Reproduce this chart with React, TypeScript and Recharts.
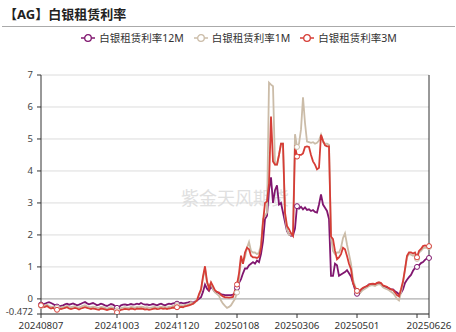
import { LineChart, Line, XAxis, YAxis, CartesianGrid, ReferenceLine } from "recharts";

// x axis: one point per trading day (index), labels at selected indices
const tickIdx = [0, 38, 68, 98, 128, 158, 188, 194];
const tickLabels = ["20240807", "20241003", "20241120", "20250108", "20250306", "20250501", "", "20250626"];
const yTicks = [-0.472, 0, 1, 2, 3, 4, 5, 6, 7];
const markerIdx = [0, 8, 38, 68, 98, 128, 158, 188, 194];

const rate12M = [
  -0.18, -0.17, -0.15, -0.12, -0.1, -0.13, -0.16, -0.2, -0.24, -0.25,
  -0.22, -0.2, -0.17, -0.15, -0.18, -0.16, -0.14, -0.17, -0.2, -0.18,
  -0.15, -0.12, -0.1, -0.14, -0.17, -0.15, -0.13, -0.16, -0.2, -0.18,
  -0.15, -0.17, -0.2, -0.22, -0.19, -0.16, -0.18, -0.22, -0.28, -0.25,
  -0.2, -0.18, -0.17, -0.19, -0.18, -0.16, -0.18, -0.17, -0.15, -0.17,
  -0.13, -0.16, -0.18, -0.17, -0.19, -0.18, -0.16, -0.18, -0.2, -0.17,
  -0.15, -0.18, -0.2, -0.17, -0.15, -0.16, -0.14, -0.13, -0.15, -0.14,
  -0.12, -0.14, -0.13, -0.12, -0.1, -0.09, -0.12, -0.08, -0.05, 0.0,
  0.05, 0.22, 0.45, 0.32, 0.25, 0.38, 0.3, 0.22, 0.2, 0.18,
  0.15, 0.13, 0.12, 0.12, 0.12, 0.12, 0.13, 0.17, 0.35, 0.5,
  0.62, 0.8, 0.95, 0.95, 1.05, 1.1, 1.15, 1.1, 1.2, 1.15,
  1.4, 1.8, 2.5, 2.6, 3.4, 3.8, 3.0, 3.4, 3.55, 2.95,
  3.0, 2.7, 2.4, 2.12, 2.02, 1.97, 1.98, 2.2, 2.9, 2.82,
  2.88, 2.8, 2.86, 2.78, 2.8, 2.75, 2.78, 2.72, 2.7, 2.95,
  3.27, 2.95, 2.85, 2.75, 2.5, 0.72, 0.72, 1.1, 1.05, 0.72,
  0.76, 0.8, 0.84, 0.9, 0.8, 0.7, 0.5, 0.3, 0.16, 0.15,
  0.25, 0.32, 0.36, 0.4, 0.45, 0.45, 0.46, 0.44, 0.48, 0.5,
  0.48, 0.4, 0.38, 0.36, 0.33, 0.3, 0.3, 0.24, 0.2, 0.15,
  0.18, 0.3, 0.5, 0.6, 0.68, 0.75, 0.88, 0.97, 1.0, 1.05,
  1.12, 1.15, 1.22, 1.27, 1.28,
];

const rate1M = [
  -0.22, -0.24, -0.2, -0.18, -0.22, -0.25, -0.24, -0.27, -0.28, -0.26,
  -0.27, -0.25, -0.24, -0.22, -0.25, -0.26, -0.24, -0.23, -0.26, -0.27,
  -0.24, -0.22, -0.2, -0.23, -0.25, -0.26, -0.24, -0.25, -0.27, -0.28,
  -0.25, -0.26, -0.28, -0.3, -0.28, -0.26, -0.27, -0.3, -0.36, -0.32,
  -0.28, -0.27, -0.26, -0.27, -0.28, -0.25, -0.26, -0.27, -0.25, -0.26,
  -0.24, -0.25, -0.27, -0.26, -0.28, -0.27, -0.26, -0.25, -0.27, -0.26,
  -0.24, -0.26, -0.25, -0.27, -0.24, -0.25, -0.22, -0.24, -0.2, -0.22,
  -0.2, -0.22, -0.18, -0.2, -0.17, -0.1, -0.16, -0.12, 0.0, 0.1,
  0.25, 0.65, 0.95, 0.5, 0.4, 0.5, 0.3, 0.2, 0.15, 0.1,
  -0.05, -0.15, -0.22, -0.28, -0.25, -0.2, -0.1, 0.0, 0.2, 0.6,
  1.2, 1.15, 1.3, 1.6, 1.78, 1.5, 1.45, 1.45, 1.4, 1.45,
  1.7, 2.5, 2.6, 2.7, 6.76, 6.7, 6.65, 4.2, 4.2, 4.5,
  4.85, 4.85, 2.6, 2.15, 2.0, 2.0, 2.1, 5.15, 4.75, 4.85,
  5.3, 6.3, 5.5, 4.92, 4.9, 4.88, 4.9, 4.85, 4.88, 4.95,
  5.13, 4.9, 4.85, 4.85, 4.82, 1.96, 1.5, 1.4, 1.45, 1.45,
  1.6, 1.9, 2.05, 1.7, 1.4, 1.1, 0.6, 0.4, 0.25, 0.15,
  0.22, 0.28, 0.32, 0.36, 0.4, 0.42, 0.42, 0.4, 0.44, 0.46,
  0.44, 0.36, 0.33, 0.3, 0.27, 0.22, 0.18, 0.1, 0.0, -0.05,
  0.2, 0.5, 0.9, 1.3, 1.4, 1.38, 1.35, 1.38, 1.25, 1.45,
  1.5, 1.58, 1.6, 1.6, 1.62,
];

const rate3M = [
  -0.2, -0.26, -0.25, -0.22, -0.27, -0.3, -0.28, -0.32, -0.34, -0.3,
  -0.32, -0.3, -0.28, -0.26, -0.3, -0.32, -0.3, -0.28, -0.3, -0.33,
  -0.3, -0.28, -0.26, -0.28, -0.3, -0.32, -0.3, -0.31, -0.33, -0.34,
  -0.3, -0.31, -0.33, -0.35, -0.33, -0.31, -0.32, -0.35, -0.42, -0.38,
  -0.34, -0.33, -0.31, -0.32, -0.33, -0.3, -0.31, -0.33, -0.3, -0.31,
  -0.3, -0.31, -0.33, -0.32, -0.34, -0.33, -0.31, -0.3, -0.32, -0.31,
  -0.29, -0.31, -0.3, -0.32, -0.3, -0.29, -0.27, -0.28, -0.26, -0.27,
  -0.25, -0.26, -0.23, -0.22, -0.2, -0.18, -0.15, -0.1, -0.05, 0.15,
  0.3, 0.7, 1.02, 0.55, 0.32, 0.52, 0.4, 0.27, 0.22, 0.2,
  0.12, 0.08, 0.05, 0.05, 0.04, 0.05, 0.06, 0.27, 0.45, 0.8,
  1.35, 1.1, 1.45, 1.6, 1.55, 1.35, 1.3, 1.3, 1.28, 1.32,
  1.6, 2.4, 3.0, 3.05, 3.6, 5.7, 4.3, 4.2, 4.2, 4.5,
  4.85, 4.85, 2.7, 2.28, 2.18, 2.05, 1.97, 4.8, 4.45, 4.5,
  4.5, 4.55, 4.75, 4.77, 4.75, 4.5, 4.3, 4.2, 4.05, 4.1,
  5.13, 4.95, 4.8, 4.77, 4.77, 1.95, 1.87, 1.5, 1.24, 1.3,
  1.4, 1.6, 1.55, 1.34, 1.1, 0.93, 0.5, 0.35, 0.25, 0.2,
  0.3, 0.35, 0.38, 0.4, 0.45, 0.47, 0.48, 0.46, 0.5, 0.52,
  0.5, 0.42, 0.4, 0.38, 0.33, 0.3, 0.28, 0.2, 0.12, 0.08,
  0.3, 0.55, 0.93, 1.35, 1.45, 1.45, 1.42, 1.45, 1.3, 1.5,
  1.56, 1.65, 1.67, 1.65, 1.65,
];

const series = [
  { key: "r12", name: "白银租赁利率12M", color: "#80166f", values: rate12M },
  { key: "r1", name: "白银租赁利率1M", color: "#cbbca8", values: rate1M },
  { key: "r3", name: "白银租赁利率3M", color: "#d63d36", values: rate3M },
];

const data = rate12M.map((_, i) => ({ idx: i, r12: rate12M[i], r1: rate1M[i], r3: rate3M[i] }));

const font = "'Noto Sans', 'Noto Sans CJK SC', sans-serif";

function marker(color: string) {
  return (props: any) => {
    const { cx, cy, index } = props;
    if (!markerIdx.includes(index)) return <g key={index} />;
    return <circle key={index} cx={cx} cy={cy} r={2.5} fill="#fff" stroke={color} strokeWidth={1} />;
  };
}

// y labels; the bottom one is nudged up a touch so it clears the date labels
function YTick(props: any) {
  const { x, y, payload } = props;
  const lift = payload.value === -0.472 ? -2.2 : 0;
  return (
    <text x={x - 2} y={y + lift} dy={3.3} textAnchor="end" fill="#444" fontSize={9.5} fontFamily={font}>
      {String(payload.value)}
    </text>
  );
}

function LegendIcon({ color }: { color: string }) {
  return (
    <svg width={14} height={10} style={{ marginRight: 4 }}>
      <line x1={0} y1={5} x2={14} y2={5} stroke={color} strokeWidth={1.5} />
      <circle cx={7} cy={5} r={3.3} fill="#fff" stroke={color} strokeWidth={1.3} />
    </svg>
  );
}

export default function App() {
  return (
    <div style={{ position: "absolute", left: 0, top: 0, width: 456, height: 332, background: "#fff", fontFamily: font }}>
      <div style={{ position: "absolute", left: 4, top: 5, fontSize: 13, fontWeight: 700, color: "#222", lineHeight: "18px" }}>
        【AG】白银租赁利率
      </div>
      <div style={{ position: "absolute", left: 2, right: 1, top: 26, borderTop: "1px solid #aaa" }} />
      <div
        style={{
          position: "absolute", left: 8, width: 472, top: 31, display: "flex", justifyContent: "center",
          fontSize: 10.5, color: "#333", lineHeight: "14px",
        }}
      >
        {series.map((s) => (
          <div key={s.key} style={{ display: "flex", alignItems: "center", marginRight: 10 }}>
            <LegendIcon color={s.color} />
            <span>{s.name}</span>
          </div>
        ))}
      </div>
      <div
        style={{
          position: "absolute", left: 41, width: 388, top: 184, textAlign: "center",
          fontSize: 18, color: "#e0e0e0",
        }}
      >
        紫金天风期货
      </div>
      <div style={{ position: "absolute", left: 0, top: 0 }}>
        <LineChart width={456} height={332} data={data} margin={{ top: 75, right: 27, bottom: 0, left: 0 }}>
          <CartesianGrid vertical={false} stroke="#dcdcdc" />
          <XAxis
            dataKey="idx"
            type="number"
            domain={[0, 194]}
            ticks={tickIdx}
            interval={0}
            tickFormatter={(v: number) => tickLabels[tickIdx.indexOf(v)] ?? ""}
            height={18}
            tickSize={4}
            tickMargin={3.8}
            axisLine={{ stroke: "#333" }}
            tickLine={{ stroke: "#333" }}
            tick={{ fill: "#333", fontSize: 9.8, fontFamily: font }}
          />
          <YAxis
            domain={[-0.472, 7]}
            ticks={yTicks}
            interval={0}
            allowDataOverflow
            width={41}
            tickSize={4}
            tickMargin={2}
            axisLine={{ stroke: "#333" }}
            tickLine={{ stroke: "#333" }}
            tick={<YTick />}
          />
          <ReferenceLine y={0} stroke="#aaa" />
          <ReferenceLine x={194} stroke="#333" />
          {series.map((s) => (
            <Line
              key={s.key}
              dataKey={s.key}
              name={s.name}
              stroke={s.color}
              strokeWidth={1.8}
              dot={marker(s.color)}
              activeDot={false}
              isAnimationActive={false}
            />
          ))}
        </LineChart>
      </div>
    </div>
  );
}
